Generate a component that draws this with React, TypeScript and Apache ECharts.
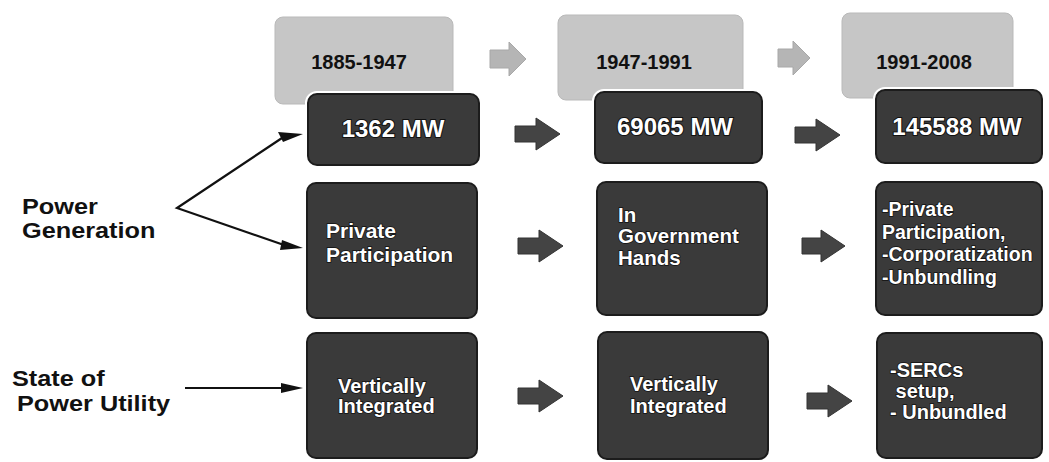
import React, { useEffect, useRef } from "react";
import * as echarts from "echarts";

const periods = ["1885-1947", "1947-1991", "1991-2008"];
const capacities = ["1362 MW", "69065 MW", "145588 MW"];
const generationStates = [
  ["Private", "Participation"],
  ["In", "Government", "Hands"],
  ["-Private", "Participation,", "-Corporatization", "-Unbundling"],
];
const utilityStates = [
  ["Vertically", "Integrated"],
  ["Vertically", "Integrated"],
  ["-SERCs", " setup,", "- Unbundled"],
];
const rowLabels = [
  ["Power", "Generation"],
  ["State of", "Power Utility"],
];

const FONT = '"Liberation Sans", Arial, Helvetica, sans-serif';

export default function App() {
  const ref = useRef<HTMLDivElement>(null);
  useEffect(() => {
    if (!ref.current) return;
    const chart = echarts.init(ref.current, undefined, { renderer: "svg" });

    const lightBoxes = [
      [275, 17, 178, 87],
      [558, 15, 185, 85],
      [842, 13, 171, 85],
    ];
    const periodCenters = [
      [359, 62],
      [644, 62],
      [924, 62],
    ];
    const row1Boxes = [
      [308, 94, 171, 71],
      [595, 92, 167, 71],
      [876, 90, 166, 73],
    ];
    const capCenters = [
      [393, 128],
      [675, 126],
      [957, 126],
    ];
    const row2Boxes = [
      [307, 183, 170, 135],
      [597, 182, 170, 133],
      [876, 182, 166, 133],
    ];
    const row2Text = [
      { x: 326, y: 230, lh: 24, fs: 21 },
      { x: 618, y: 214, lh: 21.5, fs: 20.5 },
      { x: 882, y: 209, lh: 22.5, fs: 19.5 },
    ];
    const row3Boxes = [
      [307, 333, 170, 125],
      [598, 332, 170, 127],
      [877, 333, 165, 125],
    ];
    const row3Text = [
      { x: 338, y: 386, lh: 20, fs: 20 },
      { x: 630, y: 384, lh: 22, fs: 20 },
      { x: 890, y: 370, lh: 21, fs: 20 },
    ];
    const darkArrows = [
      [515, 560, 134],
      [795, 840, 135],
      [518, 563, 246],
      [802, 845, 246],
      [518, 563, 396],
      [807, 852, 401],
    ];
    const lightArrows = [
      [490, 526, 59],
      [778, 810, 58],
    ];

    const els: any[] = [];

    const blockArrow = (x0: number, x1: number, cy: number, bh: number, hh: number, hl: number, fill: string) => ({
      type: "polygon",
      shape: {
        points: [
          [x0, cy - bh / 2],
          [x1 - hl, cy - bh / 2],
          [x1 - hl, cy - hh / 2],
          [x1, cy],
          [x1 - hl, cy + hh / 2],
          [x1 - hl, cy + bh / 2],
          [x0, cy + bh / 2],
        ],
      },
      style: { fill, stroke: fill === "#444" ? "#333" : "#a8a8a8", lineWidth: 1 },
    });

    const darkBox = (b: number[]) => {
      els.push({
        type: "rect",
        shape: { x: b[0], y: b[1], width: b[2], height: b[3], r: 9 },
        style: { fill: "#fff", stroke: "#fff", lineWidth: 6 },
      });
      els.push({
        type: "rect",
        shape: { x: b[0], y: b[1], width: b[2], height: b[3], r: 9 },
        style: { fill: "#3a3a3a", stroke: "#1c1c1c", lineWidth: 2 },
      });
    };

    // light period boxes
    lightBoxes.forEach((b, i) => {
      els.push({
        type: "rect",
        shape: { x: b[0], y: b[1], width: b[2], height: b[3], r: 8 },
        style: { fill: "#c6c6c6", stroke: "#b9b9b9", lineWidth: 1 },
      });
      els.push({
        type: "text",
        style: {
          text: periods[i],
          x: periodCenters[i][0],
          y: periodCenters[i][1],
          textAlign: "center",
          textVerticalAlign: "middle",
          font: `bold 20px ${FONT}`,
          fill: "#111",
        },
      });
    });
    lightArrows.forEach((a) => els.push(blockArrow(a[0], a[1], a[2], 18, 34, 17, "#b5b5b5")));

    // row 1 capacity boxes
    row1Boxes.forEach((b, i) => {
      darkBox(b);
      els.push({
        type: "text",
        style: {
          text: capacities[i],
          x: capCenters[i][0],
          y: capCenters[i][1],
          textAlign: "center",
          textVerticalAlign: "middle",
          font: `bold 24px ${FONT}`,
          fill: "#fff",
          stroke: "#111",
          lineWidth: 2,
        },
      });
    });

    const multiText = (lines: string[], t: { x: number; y: number; lh: number; fs: number }) => {
      lines.forEach((ln, j) => {
        els.push({
          type: "text",
          style: {
            text: ln,
            x: t.x,
            y: t.y + j * t.lh,
            textAlign: "left",
            textVerticalAlign: "middle",
            font: `bold ${t.fs}px ${FONT}`,
            fill: "#fff",
            stroke: "#111",
            lineWidth: 1.5,
          },
        });
      });
    };

    row2Boxes.forEach((b, i) => {
      darkBox(b);
      multiText(generationStates[i], row2Text[i]);
    });
    row3Boxes.forEach((b, i) => {
      darkBox(b);
      multiText(utilityStates[i], row3Text[i]);
    });

    darkArrows.forEach((a) => els.push(blockArrow(a[0], a[1], a[2], 16, 32, 24, "#444")));

    // left labels
    const labelPos = [
      [
        [22, 207],
        [22, 231],
      ],
      [
        [12, 379],
        [17, 404],
      ],
    ];
    rowLabels.forEach((lines, i) => {
      lines.forEach((ln, j) => {
        els.push({
          type: "text",
          x: labelPos[i][j][0],
          y: labelPos[i][j][1],
          scaleX: 1.15,
          style: {
            text: ln,
            x: 0,
            y: 0,
            textAlign: "left",
            textVerticalAlign: "middle",
            font: `bold 22px ${FONT}`,
            fill: "#111",
          },
        });
      });
    });

    // connector lines with arrowheads
    const vx = 177,
      vy = 208;
    els.push({
      type: "polyline",
      shape: { points: [[282, 138], [vx, vy], [284, 245]] },
      style: { stroke: "#111", lineWidth: 2.2, fill: "none" },
    });
    els.push({
      type: "polygon",
      shape: { points: [[303, 134], [278, 132], [283, 142]] },
      style: { fill: "#111" },
    });
    els.push({
      type: "polygon",
      shape: { points: [[303, 248], [282, 240], [280, 250]] },
      style: { fill: "#111" },
    });
    els.push({
      type: "line",
      shape: { x1: 185, y1: 388, x2: 285, y2: 388 },
      style: { stroke: "#111", lineWidth: 2.2 },
    });
    els.push({
      type: "polygon",
      shape: { points: [[303, 388], [281, 383], [281, 393]] },
      style: { fill: "#111" },
    });

    chart.setOption({
      animation: false,
      backgroundColor: "#ffffff",
      graphic: { elements: els },
    });

    return () => chart.dispose();
  }, []);

  return (
    <div
      ref={ref}
      style={{ position: "fixed", left: 0, top: 0, width: 1049, height: 462 }}
    />
  );
}
